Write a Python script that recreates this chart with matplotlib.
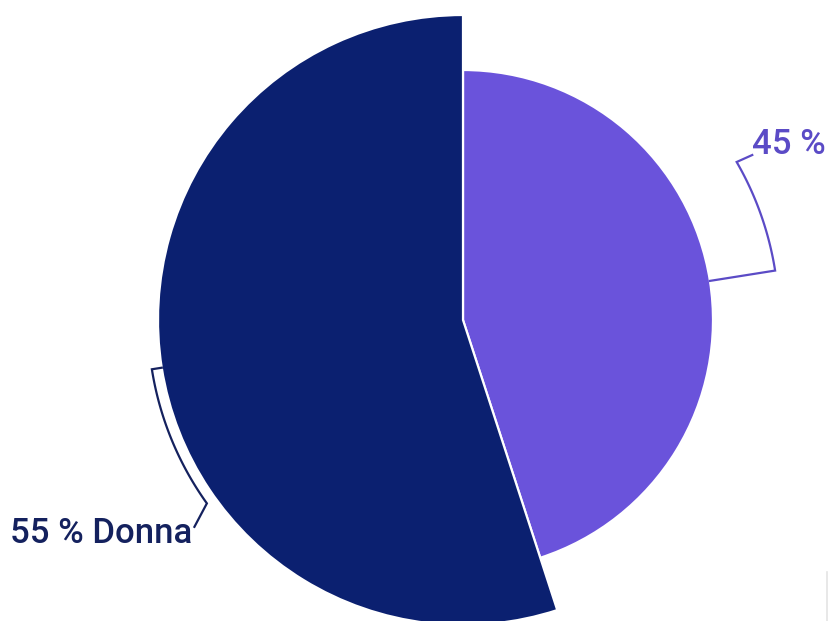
import numpy as np
import matplotlib
matplotlib.use("Agg")
import matplotlib.pyplot as plt

# Slice data
labels = ["", "Donna"]
values = [45, 55]
colors = ["#6a53db", "#0b2070"]
text_colors = ["#5b4bc6", "#14215e"]
radii = [250, 305]

W, H = 830, 621
fig = plt.figure(figsize=(W / 100, H / 100), dpi=100)
ax = fig.add_axes([0, 0, 1, 1])
cx, cy = 463, H - 320

# each slice has its own radius: draw one pie per slice, hiding the other wedge
for i, r in enumerate(radii):
    cols = ["none"] * len(values)
    cols[i] = colors[i]
    wedges, _ = ax.pie(values, radius=r, center=(cx, cy), startangle=90,
                       counterclock=False, colors=cols,
                       wedgeprops=dict(edgecolor="white", linewidth=1.6))
    for j, w in enumerate(wedges):
        if j != i:
            w.set_visible(False)

# bracket callouts
total = sum(values)
start = 90.0
bracket = [
    dict(arc_r=316, ext=21.0, end_r=333, end_da=20.7, text=(752, 154), ha="left"),
    dict(arc_r=315, ext=26.6, end_r=339, end_da=28.6, text=(192, 543), ha="right"),
]
for i, v in enumerate(values):
    span = v / total * 360
    mid = start - span / 2
    start -= span
    b = bracket[i]
    a0 = np.deg2rad(mid)
    angs = np.deg2rad(np.linspace(mid, mid + b["ext"], 60))
    xs = [cx + radii[i] * np.cos(a0)] + list(cx + b["arc_r"] * np.cos(angs))
    ys = [cy + radii[i] * np.sin(a0)] + list(cy + b["arc_r"] * np.sin(angs))
    ae = np.deg2rad(mid + b["end_da"])
    xs.append(cx + b["end_r"] * np.cos(ae))
    ys.append(cy + b["end_r"] * np.sin(ae))
    ax.plot(xs, ys, color=text_colors[i], lw=1.6, solid_joinstyle="miter")
    txt = f"{v} %" + (f" {labels[i]}" if labels[i] else "")
    tx, ty = b["text"]
    ax.text(tx, H - ty, txt, color=text_colors[i], fontsize=25, family="Roboto",
            fontweight="medium", ha=b["ha"], va="baseline")

# thin rule at the lower right corner
ax.plot([827, 827], [0, H - 572], color="#e4e4e4", lw=1.2)

ax.set_xlim(0, W)
ax.set_ylim(0, H)
ax.set_aspect("auto")
ax.axis("off")
fig.savefig("out.png", dpi=100, facecolor="white")
